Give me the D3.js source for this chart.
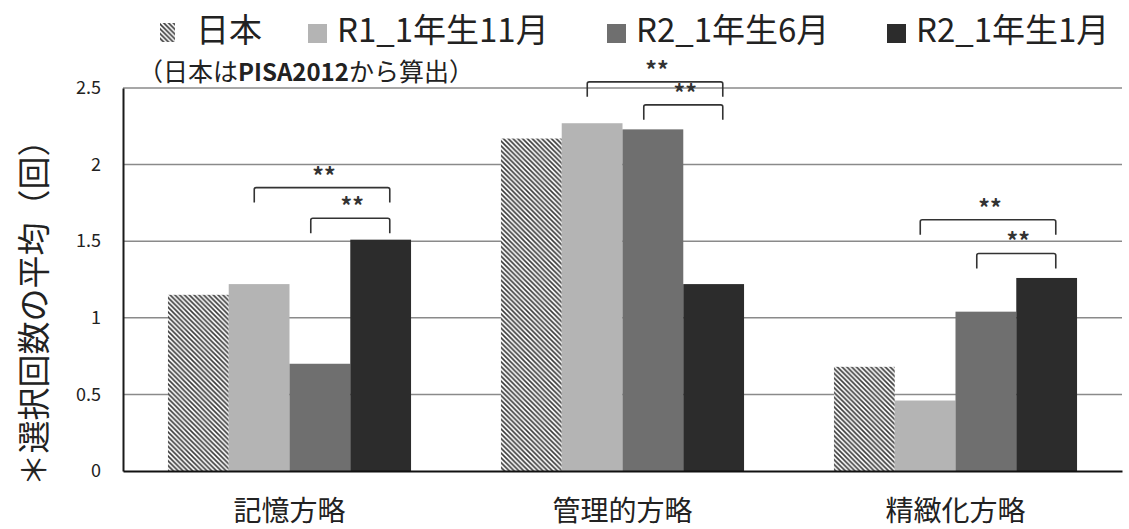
<!DOCTYPE html>
<html>
<head>
<meta charset="utf-8">
<script src="https://cdn.jsdelivr.net/npm/d3@7"></script>
<style>
  body { margin: 0; background: #fff; }
  svg { display: block; font-family: "Noto Sans CJK JP", "Noto Sans", sans-serif; }
</style>
</head>
<body>
<svg id="chart"></svg>
<script>
// data
const categories = ["記憶方略", "管理的方略", "精緻化方略"];
const seriesNames = ["日本", "R1_1年生11月", "R2_1年生6月", "R2_1年生1月"];
const japan   = [1.15, 2.17, 0.68];
const r1Nov   = [1.22, 2.27, 0.46];
const r2Jun   = [0.70, 2.23, 1.04];
const r2Jan   = [1.51, 1.22, 1.26];
const yTicks  = [0, 0.5, 1, 1.5, 2, 2.5];
const yTickLabels = ["0", "0.5", "1", "1.5", "2", "2.5"];
// significance brackets: category, from series, to series, bracket height (data units)
const bracketCat  = [0, 0, 1, 1, 2, 2];
const bracketFrom = [1, 2, 1, 2, 1, 2];
const bracketTo   = [3, 3, 3, 3, 3, 3];
const bracketTop  = [1.85, 1.65, 2.54, 2.39, 1.64, 1.42];
const bracketText = ["**", "**", "**", "**", "**", "**"];

const seriesValues = [japan, r1Nov, r2Jun, r2Jan];
const fills = ["url(#hatch)", "#b4b4b4", "#6f6f6f", "#2c2c2c"];

const width = 1129, height = 529;
const svg = d3.select("#chart").attr("width", width).attr("height", height);

const defs = svg.append("defs");
const pat = defs.append("pattern")
    .attr("id", "hatch")
    .attr("patternUnits", "userSpaceOnUse")
    .attr("width", 4.8).attr("height", 4.8);
pat.append("rect").attr("width", 4.8).attr("height", 4.8).attr("fill", "#fff");
pat.append("path")
    .attr("d", "M-1,-1 L5.8,5.8 M-1,3.8 L1,5.8 M3.8,-1 L5.8,1")
    .attr("stroke", "#3a3a3a")
    .attr("stroke-width", 1.6);

const plotL = 123, plotR = 1122, plotT = 88, plotB = 471;

const x0 = d3.scaleBand()
    .domain(categories)
    .range([plotL, plotR])
    .paddingInner(0.27)
    .paddingOuter(0.135);

const x1 = d3.scaleBand()
    .domain(d3.range(seriesNames.length))
    .range([0, x0.bandwidth()]);

const y = d3.scaleLinear().domain([0, 2.5]).range([plotB, plotT]);

// gridlines
svg.append("g")
    .selectAll("line")
    .data(yTicks.filter(d => d > 0))
    .join("line")
    .attr("x1", plotL).attr("x2", plotR)
    .attr("y1", d => y(d)).attr("y2", d => y(d))
    .attr("stroke", "#8a8a8a")
    .attr("stroke-width", 1.5);

// bars
const rows = [];
categories.forEach((c, ci) => {
    seriesValues.forEach((vals, si) => rows.push({ cat: c, si, value: vals[ci] }));
});

svg.append("g")
    .selectAll("rect")
    .data(rows)
    .join("rect")
    .attr("x", d => x0(d.cat) + x1(d.si))
    .attr("y", d => y(d.value))
    .attr("width", x1.bandwidth())
    .attr("height", d => y(0) - y(d.value))
    .attr("fill", d => fills[d.si]);

// y axis
const yAxis = svg.append("g")
    .attr("transform", `translate(${plotL},0)`)
    .call(d3.axisLeft(y).tickValues(yTicks).tickSize(0).tickPadding(22)
        .tickFormat((d, i) => yTickLabels[i]));
yAxis.select(".domain").attr("stroke", "#1a1a1a").attr("stroke-width", 2);
yAxis.selectAll("text")
    .attr("font-size", 18)
    .attr("fill", "#222")
    .attr("font-family", "'Noto Sans CJK JP', sans-serif");

// x axis
const xAxis = svg.append("g")
    .attr("transform", `translate(0,${plotB})`)
    .call(d3.axisBottom(x0).tickSize(0).tickPadding(30));
xAxis.select(".domain").attr("stroke", "#111").attr("stroke-width", 2.2);
xAxis.selectAll("text")
    .attr("font-size", 28)
    .attr("fill", "#222")
    .attr("font-family", "'Noto Sans CJK JP', sans-serif");

// brackets
const leftFrac = [0.42, 0.35];
const rightFrac = 0.65;
const leg = 15;
const br = bracketTop.map((t, i) => {
    const cat = categories[bracketCat[i]];
    const xa = x0(cat) + x1(bracketFrom[i]) + x1.bandwidth() * leftFrac[i % 2];
    const xb = x0(cat) + x1(bracketTo[i]) + x1.bandwidth() * rightFrac;
    return { xa, xb, yt: y(t), text: bracketText[i] };
});

svg.append("g")
    .selectAll("path")
    .data(br)
    .join("path")
    .attr("d", d => `M${d.xa},${d.yt + leg} L${d.xa},${d.yt + 2} Q${d.xa},${d.yt} ${d.xa + 2},${d.yt}
                     L${d.xb - 2},${d.yt} Q${d.xb},${d.yt} ${d.xb},${d.yt + 2} L${d.xb},${d.yt + leg}`)
    .attr("fill", "none")
    .attr("stroke", "#333")
    .attr("stroke-width", 1.6);

svg.append("g")
    .selectAll("text")
    .data(br)
    .join("text")
    .attr("x", d => (d.xa + d.xb) / 2 + 2)
    .attr("y", d => d.yt - 3)
    .attr("text-anchor", "middle")
    .attr("font-size", 23)
    .attr("font-weight", "bold")
    .attr("fill", "#333")
    .text(d => d.text);

// y axis title
svg.append("text")
    .attr("transform", "translate(46,305) rotate(-90)")
    .attr("text-anchor", "middle")
    .attr("font-size", 33)
    .attr("fill", "#222")
    .text("＊選択回数の平均（回）");

// legend
const legendX = [160, 308, 607, 887];
const legend = svg.append("g");
seriesNames.forEach((name, i) => {
    const g = legend.append("g").attr("transform", `translate(${legendX[i]},0)`);
    if (i === 0) {
        g.append("rect").attr("x", 0).attr("y", 23).attr("width", 15).attr("height", 19)
            .attr("fill", fills[i]);
    } else {
        g.append("rect").attr("x", 0).attr("y", 24).attr("width", 19).attr("height", 19)
            .attr("fill", fills[i]);
    }
    g.append("text")
        .attr("x", i === 0 ? 36 : 29)
        .attr("y", 42)
        .attr("font-size", 33)
        .attr("fill", "#222")
        .text(name);
});

const sub = svg.append("text")
    .attr("x", 138)
    .attr("y", 81)
    .attr("font-size", 25)
    .attr("fill", "#222");
sub.append("tspan").text("（日本は");
sub.append("tspan").attr("font-weight", "bold").attr("font-size", 24).text("PISA2012");
sub.append("tspan").text("から算出）");
</script>
</body>
</html>
